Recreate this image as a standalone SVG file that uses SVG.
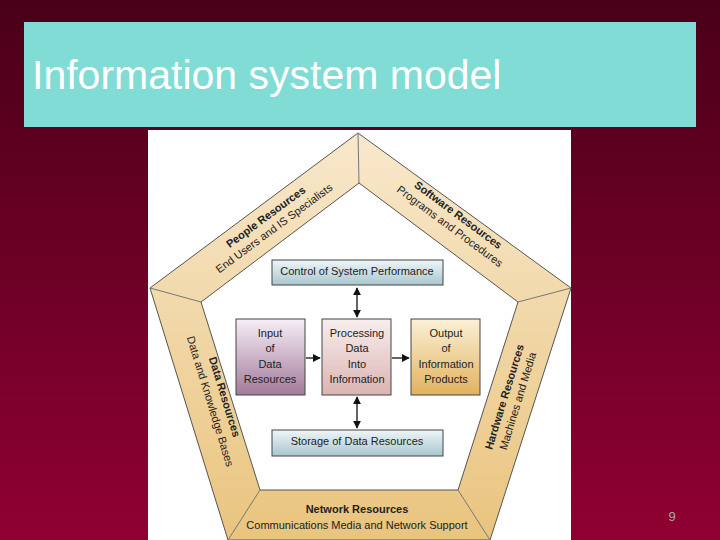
<svg xmlns="http://www.w3.org/2000/svg" width="720" height="540" viewBox="0 0 720 540">
<defs>
<linearGradient id="bg" x1="0" y1="0" x2="0" y2="1"><stop offset="0" stop-color="#4a0019"/><stop offset="1" stop-color="#900033"/></linearGradient>
<linearGradient id="band" x1="0" y1="0" x2="0" y2="1"><stop offset="0" stop-color="#f8e8cc"/><stop offset="1" stop-color="#e9c47e"/></linearGradient>
<linearGradient id="gBlue" x1="0" y1="0" x2="0" y2="1"><stop offset="0" stop-color="#eef6f8"/><stop offset="1" stop-color="#a9c6ce"/></linearGradient>
<linearGradient id="gPur" x1="0" y1="0" x2="0" y2="1"><stop offset="0" stop-color="#f6eef6"/><stop offset="1" stop-color="#a27a9a"/></linearGradient>
<linearGradient id="gPink" x1="0" y1="0" x2="0" y2="1"><stop offset="0" stop-color="#f8eeee"/><stop offset="1" stop-color="#dab4b2"/></linearGradient>
<linearGradient id="gOr" x1="0" y1="0" x2="0" y2="1"><stop offset="0" stop-color="#fbf0d6"/><stop offset="1" stop-color="#e2b25e"/></linearGradient>
<marker id="ah" viewBox="0 0 10 10" refX="9" refY="5" markerWidth="6" markerHeight="6" orient="auto-start-reverse"><path d="M0,0 L10,5 L0,10 z" fill="#111"/></marker>
<style>
.t{font-family:"Liberation Sans",Arial,sans-serif;fill:#222;}
.b{font-weight:bold;font-size:11px;}
.s{font-size:11px;}
.bx{stroke:#444;stroke-width:1;}
.ln{stroke:#111;stroke-width:1.3;fill:none;marker-start:url(#ah);marker-end:url(#ah);}
.ln1{stroke:#111;stroke-width:1.3;fill:none;marker-end:url(#ah);}
</style>
</defs>
<rect width="720" height="540" fill="url(#bg)"/>
<rect x="24" y="22" width="672" height="105" fill="#80dcd4"/>
<text x="32" y="89" font-family="Liberation Sans,Arial,sans-serif" font-size="41" fill="#fff">Information system model</text>
<text x="672" y="521" font-family="Liberation Sans,Arial,sans-serif" font-size="13" fill="#aaa" text-anchor="middle">9</text>
<g id="frame">
<rect x="148" y="130" width="423" height="410" fill="#fff"/>
<polygon points="358,133 571,288 490,540 228,540 150,288" fill="url(#band)" stroke="#555" stroke-width="1"/>
<polygon points="359,183 518,302 458,490 260,490 201,302" fill="#fff" stroke="#555" stroke-width="1"/>
<g stroke="#777" stroke-width="1"><line x1="358" y1="133" x2="359" y2="183"/><line x1="571" y1="288" x2="518" y2="302"/><line x1="490" y1="540" x2="458" y2="490"/><line x1="228" y1="540" x2="260" y2="490"/><line x1="150" y1="288" x2="201" y2="302"/></g>
</g>
<g id="people" transform="translate(268,220) rotate(-36.5)"><text class="t b" text-anchor="middle" y="0">People Resources</text><text class="t s" text-anchor="middle" y="14">End Users and IS Specialists</text></g>
<g id="software" transform="translate(456,218) rotate(36.5)"><text class="t b" text-anchor="middle" y="0">Software Resources</text><text class="t s" text-anchor="middle" y="14">Programs and Procedures</text></g>
<g id="data" transform="translate(221,398) rotate(72.9)"><text class="t b" text-anchor="middle" y="0">Data Resources</text><text class="t s" text-anchor="middle" y="15">Data and Knowledge Bases</text></g>
<g id="hardware" transform="translate(508,398) rotate(-72.9)"><text class="t b" text-anchor="middle" y="0">Hardware Resources</text><text class="t s" text-anchor="middle" y="14">Machines and Media</text></g>
<g id="network"><text class="t b" x="357" y="513" text-anchor="middle">Network Resources</text><text class="t s" x="357" y="529" text-anchor="middle">Communications Media and Network Support</text></g>
<g id="control"><rect class="bx" x="272" y="260" width="171" height="25" fill="url(#gBlue)"/><text class="t s" x="357" y="275" text-anchor="middle">Control of System Performance</text></g>
<g id="storage"><rect class="bx" x="272" y="430" width="171" height="26" fill="url(#gBlue)"/><text class="t s" x="357" y="445" text-anchor="middle">Storage of Data Resources</text></g>
<g id="input"><rect class="bx" x="236" y="319" width="69" height="76" fill="url(#gPur)"/><text class="t s" text-anchor="middle"><tspan x="270" y="337">Input</tspan><tspan x="270" y="352">of</tspan><tspan x="270" y="368">Data</tspan><tspan x="270" y="383">Resources</tspan></text></g>
<g id="processing"><rect class="bx" x="322" y="319" width="69" height="76" fill="url(#gPink)"/><text class="t s" text-anchor="middle"><tspan x="357" y="337">Processing</tspan><tspan x="357" y="352">Data</tspan><tspan x="357" y="368">Into</tspan><tspan x="357" y="383">Information</tspan></text></g>
<g id="output"><rect class="bx" x="411" y="319" width="69" height="76" fill="url(#gOr)"/><text class="t s" text-anchor="middle"><tspan x="446" y="337">Output</tspan><tspan x="446" y="352">of</tspan><tspan x="446" y="368">Information</tspan><tspan x="446" y="383">Products</tspan></text></g>
<g id="connectors">
<line class="ln" x1="357" y1="288" x2="357" y2="317"/>
<line class="ln" x1="357" y1="397" x2="357" y2="428"/>
<line class="ln1" x1="306" y1="358" x2="320" y2="358"/>
<line class="ln1" x1="392" y1="358" x2="409" y2="358"/>
</g>
</svg>
